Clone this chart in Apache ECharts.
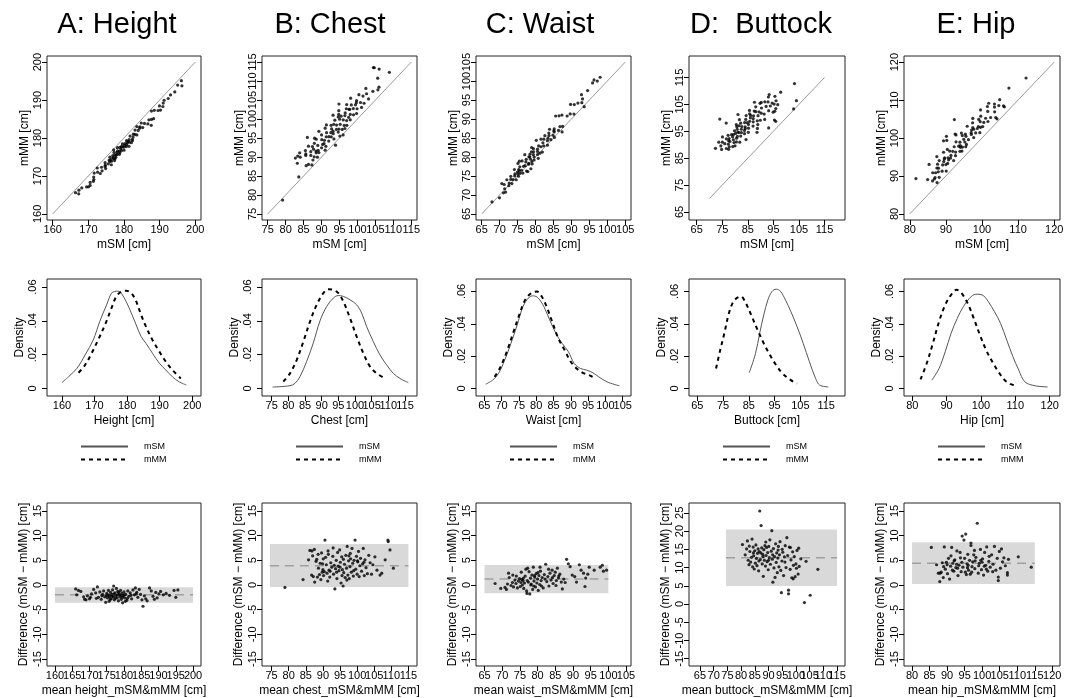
<!DOCTYPE html>
<html><head><meta charset="utf-8">
<script src="https://cdn.jsdelivr.net/npm/echarts@6/dist/echarts.min.js"></script>
<style>html,body{margin:0;padding:0;background:#fff}#c{width:1075px;height:698px}</style>
</head><body><div id="c"></div><script>
// ---------- DATA ----------
const titles = ['A: Height','B: Chest','C: Waist','D:  Buttock','E: Hip'];
const densityXNames = ['Height [cm]','Chest [cm]','Waist [cm]','Buttock [cm]','Hip [cm]'];
const baXNames = ['mean height_mSM&mMM [cm]','mean chest_mSM&mMM [cm]','mean waist_mSM&mMM [cm]','mean buttock_mSM&mMM [cm]','mean hip_mSM&mMM [cm]'];
const scatterTicks = [[160,170,180,190,200],[75,80,85,90,95,100,105,110,115],[65,70,75,80,85,90,95,100,105],[65,75,85,95,105,115],[80,90,100,110,120]];
const densXTicks = [[160,170,180,190,200],[75,80,85,90,95,100,105,110,115],[65,70,75,80,85,90,95,100,105],[65,75,85,95,105,115],[80,90,100,110,120]];
const densYTicks = [0,0.02,0.04,0.06];
const baXTicks = [[160,165,170,175,180,185,190,195,200],[75,80,85,90,95,100,105,110,115],[65,70,75,80,85,90,95,100,105],[65,70,75,80,85,90,95,100,105,110,115],[80,85,90,95,100,105,110,115,120]];
const baYTicks = [[-15,-10,-5,0,5,10,15],[-15,-10,-5,0,5,10,15],[-15,-10,-5,0,5,10,15],[-15,-10,-5,0,5,10,15,20,25],[-15,-10,-5,0,5,10,15]];
const identityLines = [[160,200],[75,115],[65,105],[70,115],[80,120]];
const baMeanDiff = [-1.96,3.92,1.22,12.7,4.39];
const baLower = [-3.58,-0.41,-1.69,4.95,0.2];
const baUpper = [-0.47,8.31,4.05,20.4,8.65];
const baBandX = [[160,200],[74.5,115],[65,100],[74.5,115],[80,115]];

// Bland-Altman points: [mean of mSM & mMM, difference]
const heightBA = [[166.0,-0.8],[166.3,-2.0],[166.8,-1.1],[167.5,-1.3],[168.3,-2.4],[168.6,-2.9],[169.4,-2.2],[170.0,-2.8],[170.6,-1.8],[171.2,-0.9],[171.8,-1.6],[172.3,-0.4],[172.6,-2.5],[173.0,-1.4],[173.4,-2.9],[173.8,-1.9],[174.1,-1.2],[174.4,-2.4],[174.7,-3.5],[175.0,-1.7],[175.2,-2.6],[175.5,-1.1],[175.7,-3.3],[175.9,-2.1],[176.1,-1.5],[176.3,-2.8],[176.5,-1.9],[176.7,-1.0],[176.9,-2.4],[177.0,-0.2],[177.2,-3.0],[177.4,-1.6],[177.6,-2.2],[177.8,-0.7],[178.0,-2.6],[178.2,-1.3],[178.4,-3.2],[178.6,-1.9],[178.8,-2.4],[179.0,-1.1],[179.2,-2.9],[179.4,-1.7],[179.6,-3.6],[179.8,-2.2],[180.0,-1.4],[180.2,-2.6],[180.5,-1.9],[180.8,-3.1],[181.1,-1.2],[181.4,-2.3],[181.8,-1.6],[182.2,-2.8],[182.6,-1.0],[183.0,-2.0],[183.3,-0.6],[183.7,-1.5],[184.0,-2.5],[184.4,-0.9],[184.8,-1.9],[185.2,-3.0],[185.5,-4.3],[185.9,-2.2],[186.3,-2.8],[186.7,-3.2],[187.4,-0.6],[187.9,-1.2],[188.4,-2.3],[188.8,-2.9],[189.2,-1.5],[189.6,-2.6],[190.1,-1.8],[190.6,-1.3],[191.4,-2.0],[192.2,-1.7],[193.2,-2.1],[194.5,-1.1],[195.0,-2.5],[195.6,-1.0],[175.3,-2.0],[175.8,-2.4],[176.0,-2.9],[176.6,-2.3],[177.1,-1.8],[177.5,-2.7],[178.1,-2.0],[178.5,-1.5],[179.1,-2.1],[179.5,-2.5],[180.1,-2.0],[180.4,-3.3],[181.0,-2.7],[182.0,-2.1],[183.5,-1.8],[174.9,-2.2],[173.6,-2.2],[172.0,-2.7],[170.3,-2.5],[169.0,-3.0]];
const chestBA = [[78.9,-0.5],[84.2,1.1],[85.8,5.1],[86.2,7.0],[86.8,6.9],[87.5,7.2],[86.7,2.0],[87.2,1.7],[87.6,0.6],[88.2,5.2],[88.0,4.8],[88.4,1.6],[88.7,3.4],[89.0,2.1],[89.2,4.4],[89.4,1.1],[89.6,6.5],[89.8,2.6],[90.0,3.1],[90.2,1.9],[90.4,2.7],[90.6,9.1],[90.8,5.6],[91.0,4.1],[91.2,2.4],[91.4,0.8],[91.6,6.2],[91.8,3.0],[92.0,1.6],[92.3,4.5],[92.6,3.6],[92.9,5.8],[93.1,2.2],[93.3,4.0],[93.5,-0.8],[93.7,3.3],[93.9,5.0],[94.1,1.3],[94.3,6.6],[94.5,3.8],[94.7,2.9],[94.9,7.1],[95.1,4.6],[95.3,0.4],[95.5,5.7],[95.7,3.1],[95.9,-0.2],[96.1,2.5],[96.3,4.2],[96.5,1.5],[96.7,6.0],[96.9,3.4],[97.1,7.8],[97.3,2.0],[97.5,4.9],[97.7,1.3],[97.9,3.7],[98.1,5.3],[98.3,2.6],[98.5,7.4],[98.7,4.4],[98.9,1.8],[99.1,5.0],[99.4,9.1],[99.6,3.2],[99.8,5.8],[100.0,2.2],[100.2,4.7],[100.4,6.8],[100.6,1.7],[100.8,3.9],[101.0,5.4],[101.3,2.8],[101.6,4.3],[101.8,7.4],[102.1,1.9],[102.3,5.1],[102.6,3.5],[103.0,2.3],[103.4,6.0],[103.8,4.5],[104.2,2.2],[104.6,4.1],[105.2,5.7],[105.8,3.0],[106.7,2.0],[107.2,2.4],[108.2,5.1],[109.0,9.1],[109.1,8.8],[109.6,7.1],[110.6,3.4],[87.0,5.9],[88.6,6.2],[90.1,5.3],[91.5,6.9],[93.0,7.5],[94.0,2.6],[95.0,3.6],[96.0,5.2],[97.0,1.0],[98.0,6.4],[99.0,2.9],[100.1,4.9],[102.0,4.6],[92.1,2.8],[89.9,4.3],[95.6,1.9],[97.6,5.9]];
const waistBA = [[68.0,0.3],[69.6,-0.7],[70.8,-0.5],[71.2,-0.9],[71.5,0.2],[71.8,2.4],[72.0,1.5],[72.5,-0.1],[72.9,0.5],[73.2,-0.4],[73.6,1.0],[73.9,0.3],[74.3,-0.6],[74.6,0.8],[74.9,1.3],[75.1,-0.3],[75.3,0.5],[75.5,1.1],[75.7,0.0],[75.9,0.9],[76.1,-0.7],[76.3,0.4],[76.5,1.8],[76.7,3.2],[76.9,-1.2],[77.0,-1.7],[77.2,3.4],[77.4,0.6],[77.6,2.7],[77.8,-1.8],[78.0,1.4],[78.2,0.2],[78.4,2.0],[78.6,-0.9],[78.8,3.6],[79.0,0.8],[79.2,1.6],[79.4,-0.4],[79.6,2.3],[79.8,0.4],[80.0,1.2],[80.2,-1.1],[80.4,1.9],[80.6,0.1],[80.8,2.8],[81.0,0.9],[81.3,1.5],[81.6,-0.6],[81.9,2.1],[82.3,4.2],[82.6,0.7],[82.9,1.7],[83.2,-0.2],[83.5,2.4],[83.8,1.0],[84.1,3.0],[84.4,0.3],[84.7,1.9],[85.0,2.6],[85.3,0.9],[85.6,3.4],[85.9,1.4],[86.3,2.2],[86.7,0.6],[87.0,-0.8],[87.4,1.2],[87.8,0.5],[88.2,5.2],[88.7,4.3],[89.2,3.7],[89.8,2.0],[90.5,1.7],[91.0,0.6],[91.8,4.1],[92.3,3.0],[93.0,2.4],[93.4,-0.3],[93.6,1.4],[94.2,2.2],[94.6,3.6],[96.0,3.0],[97.7,3.6],[98.6,2.8],[99.5,3.0],[98.3,4.0],[76.0,1.4],[77.1,0.9],[78.1,0.0],[79.1,1.9],[80.1,2.5],[81.1,-0.2],[82.1,1.2],[83.1,3.2],[84.2,1.5],[85.2,-0.1],[86.0,1.8],[74.0,1.8],[73.0,2.0],[75.4,2.6],[78.9,-0.2],[80.7,3.6]];
const buttockBA = [[80.5,16.3],[81.5,13.5],[82.0,15.1],[82.3,17.3],[82.6,12.0],[82.9,10.8],[83.2,14.4],[83.5,11.5],[83.8,12.8],[84.0,17.8],[84.2,10.2],[84.4,15.6],[84.6,13.2],[84.8,9.6],[85.0,14.6],[85.2,11.2],[85.4,16.2],[85.6,12.5],[85.8,10.5],[86.0,13.9],[86.2,15.1],[86.4,9.1],[86.6,14.4],[86.8,25.5],[87.0,12.2],[87.3,21.5],[87.5,15.4],[87.7,11.0],[87.9,13.6],[88.1,7.6],[88.3,14.9],[88.5,12.0],[88.7,16.0],[88.9,10.4],[89.1,13.3],[89.3,15.5],[89.5,11.6],[89.7,14.1],[89.9,9.4],[90.1,15.8],[90.3,12.7],[90.5,17.6],[90.7,10.9],[91.0,14.5],[91.2,20.1],[91.4,12.3],[91.6,6.0],[91.8,15.2],[92.0,9.9],[92.2,13.0],[92.4,7.3],[92.6,16.5],[92.8,11.4],[93.0,14.0],[93.2,8.6],[93.4,12.6],[93.6,15.8],[93.8,10.2],[94.0,13.5],[94.2,17.1],[94.5,9.2],[94.7,3.1],[94.9,11.8],[95.2,14.2],[95.5,7.8],[95.8,12.9],[96.1,16.0],[96.4,10.0],[96.7,18.2],[97.0,13.3],[97.3,3.8],[97.3,2.8],[97.6,15.6],[97.9,9.5],[98.2,12.1],[98.5,7.2],[98.8,14.3],[99.1,10.6],[99.4,13.0],[99.7,7.5],[100.0,11.0],[100.4,14.7],[100.8,8.2],[101.2,10.3],[101.8,12.4],[103.1,0.4],[103.7,11.7],[105.2,2.4],[108.0,9.5],[84.5,14.0],[86.5,11.8],[88.0,13.0],[89.0,17.0],[90.0,12.0],[91.5,13.5],[93.5,14.8],[95.0,15.0],[96.0,11.5],[98.0,15.5],[99.0,6.9],[100.2,9.8],[101.0,15.3],[83.0,15.9],[87.2,14.0]];
const hipBA = [[85.5,7.6],[87.0,4.1],[87.5,2.4],[87.9,0.7],[88.3,2.6],[88.6,4.5],[88.9,1.5],[89.2,7.7],[89.5,3.2],[89.8,4.6],[90.1,2.3],[90.4,5.4],[90.7,1.2],[91.0,3.8],[91.3,7.6],[91.6,4.4],[91.9,2.8],[92.2,5.1],[92.5,3.5],[92.8,6.9],[93.1,1.9],[93.4,4.0],[93.7,6.6],[94.0,2.7],[94.3,9.9],[94.5,3.6],[94.8,9.1],[95.0,5.4],[95.3,10.3],[95.5,2.1],[95.7,4.3],[95.9,6.2],[96.1,3.0],[96.4,5.0],[96.8,8.5],[96.8,8.0],[97.0,2.6],[97.3,4.7],[97.6,6.1],[97.9,3.3],[98.2,5.6],[98.6,12.5],[98.9,2.4],[99.2,4.4],[99.5,7.2],[99.8,3.1],[100.1,5.3],[100.4,2.0],[100.7,6.6],[101.0,4.0],[101.3,7.7],[101.6,2.8],[101.9,4.8],[102.3,3.6],[102.7,6.1],[103.1,4.2],[103.5,7.8],[103.9,3.0],[104.3,5.4],[104.6,0.9],[104.6,1.6],[104.9,6.8],[105.2,3.4],[105.5,7.3],[105.8,4.7],[106.2,5.5],[106.6,3.9],[107.2,2.0],[107.2,2.5],[107.5,5.2],[110.3,5.7],[114.0,3.6],[89.0,3.7],[90.0,4.1],[91.5,3.0],[92.0,4.9],[93.0,3.4],[94.2,4.6],[95.2,2.6],[96.0,4.0],[97.1,3.7],[98.0,4.9],[99.0,3.9],[100.0,4.6],[101.2,3.2],[102.0,5.8],[92.7,4.2],[93.8,5.5],[95.8,3.5],[96.6,2.2],[97.8,7.0],[99.6,5.0],[100.6,3.8],[103.0,2.7],[88.0,2.4],[91.1,5.9]];

// Density curves [x, density]
const heightDensSM = [[160.0,0.0034],[162.0,0.0069],[164.6,0.0119],[167.1,0.0198],[169.6,0.0287],[171.6,0.0396],[173.7,0.0495],[175.2,0.0564],[176.2,0.0574],[177.2,0.0576],[178.2,0.0564],[179.7,0.0515],[181.3,0.0446],[182.8,0.0376],[184.3,0.0307],[185.8,0.0267],[187.8,0.0208],[189.9,0.0149],[191.9,0.0109],[193.9,0.0069],[195.9,0.0040],[198.2,0.0020]];
const heightDensMM = [[165.1,0.0093],[167.1,0.0139],[169.1,0.0208],[171.1,0.0287],[173.2,0.0376],[175.2,0.0475],[176.7,0.0545],[178.2,0.0572],[179.7,0.0578],[181.3,0.0564],[182.8,0.0515],[184.3,0.0436],[185.8,0.0366],[187.8,0.0287],[189.9,0.0218],[191.9,0.0158],[193.9,0.0109],[196.5,0.0059]];
const chestDensSM = [[75.3,0.0008],[80.5,0.0016],[82.0,0.0030],[83.5,0.0070],[85.5,0.0160],[87.5,0.0270],[89.5,0.0400],[91.5,0.0485],[93.5,0.0535],[95.0,0.0550],[96.5,0.0545],[98.5,0.0525],[100.5,0.0495],[102.0,0.0446],[103.5,0.0366],[105.5,0.0277],[107.5,0.0198],[109.5,0.0139],[111.5,0.0089],[113.5,0.0059],[116.0,0.0034]];
const chestDensMM = [[78.5,0.0040],[80.5,0.0089],[82.5,0.0168],[84.5,0.0277],[86.5,0.0396],[88.5,0.0495],[90.5,0.0564],[92.0,0.0588],[93.5,0.0584],[95.0,0.0564],[96.5,0.0515],[98.5,0.0416],[100.5,0.0307],[102.5,0.0208],[104.5,0.0129],[106.5,0.0089],[108.5,0.0065]];
const waistDensSM = [[65.4,0.0027],[67.4,0.0052],[69.1,0.0093],[70.9,0.0176],[72.7,0.0279],[74.5,0.0393],[76.2,0.0507],[78.0,0.0565],[79.2,0.0573],[80.6,0.0559],[82.2,0.0507],[83.9,0.0424],[85.7,0.0341],[87.5,0.0279],[89.3,0.0228],[91.0,0.0155],[92.8,0.0124],[94.6,0.0114],[96.4,0.0097],[98.1,0.0072],[100.5,0.0041],[104.0,0.0017]];
const waistDensMM = [[68.0,0.0072],[69.7,0.0134],[71.5,0.0228],[73.3,0.0341],[75.1,0.0455],[76.8,0.0548],[78.6,0.0590],[80.2,0.0600],[81.6,0.0569],[83.0,0.0507],[84.6,0.0414],[86.4,0.0310],[88.2,0.0238],[90.0,0.0166],[91.7,0.0124],[93.5,0.0097],[95.3,0.0083],[97.1,0.0062]];
const buttockDensSM = [[85.2,0.0099],[87.6,0.0217],[89.2,0.0341],[90.8,0.0455],[92.4,0.0548],[94.0,0.0600],[95.6,0.0614],[97.3,0.0600],[99.2,0.0548],[101.3,0.0476],[103.7,0.0383],[106.1,0.0279],[108.5,0.0166],[110.9,0.0062],[112.5,0.0021],[115.8,0.0010]];
const buttockDensMM = [[72.3,0.0124],[73.9,0.0238],[75.5,0.0341],[77.1,0.0455],[78.7,0.0528],[80.3,0.0559],[81.9,0.0569],[83.5,0.0538],[85.9,0.0455],[88.4,0.0362],[90.8,0.0279],[93.2,0.0207],[95.6,0.0145],[98.1,0.0093],[101.3,0.0052],[103.7,0.0031]];
const hipDensSM = [[85.7,0.0052],[87.8,0.0124],[89.6,0.0228],[91.3,0.0341],[93.1,0.0434],[94.9,0.0507],[96.7,0.0559],[98.5,0.0583],[100.3,0.0579],[102.1,0.0538],[103.9,0.0476],[105.7,0.0403],[107.5,0.0300],[109.3,0.0197],[111.0,0.0114],[112.8,0.0041],[115.8,0.0017],[119.4,0.0010]];
const hipDensMM = [[82.4,0.0056],[84.2,0.0155],[86.0,0.0279],[87.8,0.0414],[89.6,0.0517],[91.3,0.0579],[92.9,0.0610],[94.3,0.0590],[96.1,0.0528],[97.9,0.0434],[99.7,0.0331],[101.5,0.0238],[103.3,0.0166],[105.1,0.0103],[106.9,0.0052],[108.7,0.0027],[110.4,0.0017]];

// ---------- LAYOUT ----------
const baSets = [heightBA, chestBA, waistBA, buttockBA, hipBA];
const densSM = [heightDensSM, chestDensSM, waistDensSM, buttockDensSM, hipDensSM];
const densMM = [heightDensMM, chestDensMM, waistDensMM, buttockDensMM, hipDensMM];

const FONT = '"Liberation Sans", Arial, Helvetica, sans-serif';
const cols = [{l:47,w:154},{l:262,w:155},{l:476,w:155},{l:689,w:156},{l:904,w:156}];
const rows = [{t:56,h:164},{t:279,h:117},{t:503,h:163}];
const scatterRange = [[158.4,201.6],[73.4,116.6],[63.4,106.6],[62,123],[78.4,121.6]];
const densXRange = [[155.4,202.7],[72.1,118.6],[62.6,107.4],[61.8,122.3],[77.6,123.0]];
const densYRange = [[-0.0045,0.0648],[-0.0045,0.0648],[-0.0046,0.0677],[-0.0046,0.0677],[-0.0046,0.0677]];
const baXRange = [[157.7,202.3],[72.2,117.5],[62.6,106.4],[61,117.9],[77.7,122.2]];
const baYRange = [[-16.4,16.6],[-16.4,16.6],[-16.4,16.6],[-17,27.7],[-16.4,16.6]];
const titleX = [117,330,540,761,976];

const grid=[], xAxis=[], yAxis=[], series=[], legend=[], graphic=[];

function axisCommon(min,max,ticks,name,gap,fmt,rot,lblMargin){
  return {type:'value', min, max, name, nameLocation:'middle', nameGap:gap,
    nameTextStyle:{fontSize:12, color:'#000', fontFamily:FONT},
    axisLine:{show:false, onZero:false}, splitLine:{show:false},
    axisTick:{show:true, customValues:ticks, length:5, lineStyle:{color:'#000', width:1}},
    axisLabel:{customValues:ticks, fontSize:11, color:'#000', fontFamily:FONT, margin:lblMargin||4, rotate:rot||0,
      formatter: fmt || (v=>String(v)), hideOverlap:false}};
}
// Two coincident axes per side (alternate ticks), so the crowded R-style labels all stay visible.
function pushAxisPair(arr, gi, pos, min, max, ticks, name, gap, fmt, rot, margin){
  const even = ticks.filter((_,i)=>i%2===0), odd = ticks.filter((_,i)=>i%2===1);
  arr.push(Object.assign(axisCommon(min,max,even,name,gap,fmt,rot,margin),{gridIndex:gi, position:pos}));
  arr.push(Object.assign(axisCommon(min,max,odd,'',gap,fmt,rot,margin),{gridIndex:gi, position:pos}));
}
const densFmt = v => v===0 ? '0' : '.' + String(Math.round(v*100)).padStart(2,'0');

for(let c=0;c<5;c++){
  for(let r=0;r<3;r++){
    grid.push({left:cols[c].l, top:rows[r].t, width:cols[c].w, height:rows[r].h, show:true,
      borderColor:'#222', borderWidth:1, backgroundColor:'transparent'});
  }
  const gS=c*3, gD=c*3+1, gB=c*3+2;
  pushAxisPair(xAxis, gS, 'bottom', scatterRange[c][0],scatterRange[c][1],scatterTicks[c],'mSM [cm]',19);
  pushAxisPair(yAxis, gS, 'left', scatterRange[c][0],scatterRange[c][1],scatterTicks[c],'mMM [cm]',10,null,90);
  pushAxisPair(xAxis, gD, 'bottom', densXRange[c][0],densXRange[c][1],densXTicks[c],densityXNames[c],19);
  pushAxisPair(yAxis, gD, 'left', densYRange[c][0],densYRange[c][1],densYTicks,'Density',18,densFmt,90,9);
  pushAxisPair(xAxis, gB, 'bottom', baXRange[c][0],baXRange[c][1],baXTicks[c],baXNames[c],19);
  pushAxisPair(yAxis, gB, 'left', baYRange[c][0],baYRange[c][1],baYTicks[c],'Difference (mSM \u2212 mMM) [cm]',17,null,90);
  const aS=2*gS, aD=2*gD, aB=2*gB;

  const ba = baSets[c];
  series.push({type:'line', xAxisIndex:aS, yAxisIndex:aS, symbol:'none', silent:true, z:1,
    data:[[identityLines[c][0],identityLines[c][0]],[identityLines[c][1],identityLines[c][1]]],
    lineStyle:{color:'#9a9a9a', width:1}});
  series.push({type:'scatter', xAxisIndex:aS, yAxisIndex:aS, symbolSize:3.2, z:3, silent:true,
    itemStyle:{color:'#000'}, data: ba.map(([m,d])=>[m-d/2, m+d/2])});
  series.push({type:'line', name:'mSM', xAxisIndex:aD, yAxisIndex:aD, symbol:'none', smooth:0.35, silent:true,
    data:densSM[c], lineStyle:{color:'#555', width:1}, itemStyle:{color:'#555'}});
  series.push({type:'line', name:'mMM', xAxisIndex:aD, yAxisIndex:aD, symbol:'none', smooth:0.35, silent:true,
    data:densMM[c], lineStyle:{color:'#000', width:2, type:[4,4]}, itemStyle:{color:'#000'}});
  series.push({type:'custom', xAxisIndex:aB, yAxisIndex:aB, z:1, silent:true,
    data:[[baBandX[c][0], baBandX[c][1], baLower[c], baUpper[c]]],
    renderItem:(params, api)=>{
      const p0 = api.coord([api.value(0), api.value(3)]);
      const p1 = api.coord([api.value(1), api.value(2)]);
      return {type:'rect', shape:{x:p0[0], y:p0[1], width:p1[0]-p0[0], height:p1[1]-p0[1]}, style:{fill:'#d9d9d9'}};
    }});
  series.push({type:'line', xAxisIndex:aB, yAxisIndex:aB, symbol:'none', z:2, silent:true,
    data:[[baBandX[c][0], baMeanDiff[c]],[baBandX[c][1], baMeanDiff[c]]],
    lineStyle:{color:'#a0a0a0', width:1.5, type:[9,6]}});
  series.push({type:'scatter', xAxisIndex:aB, yAxisIndex:aB, symbolSize:3.2, z:3, silent:true,
    itemStyle:{color:'#000'}, data: ba});

  legend.push({data:['mSM','mMM'], orient:'vertical', left:cols[c].l+28, top:437, itemWidth:47, itemHeight:10, itemGap:4,
    selectedMode:false, itemStyle:{opacity:0, borderWidth:0},
    textStyle:{fontSize:9, color:'#000', fontFamily:FONT, padding:[0,0,0,11]}});
  graphic.push({type:'text', x:titleX[c], y:25, style:{text:titles[c], font:'29px '+FONT, fill:'#000',
    textAlign:'center', align:'center', textVerticalAlign:'middle', verticalAlign:'middle'}});
}

const chart = echarts.init(document.getElementById('c'), null, {renderer:'canvas'});
chart.setOption({animation:false, backgroundColor:'#fff', grid, xAxis, yAxis, series, legend, graphic});
</script></body></html>
